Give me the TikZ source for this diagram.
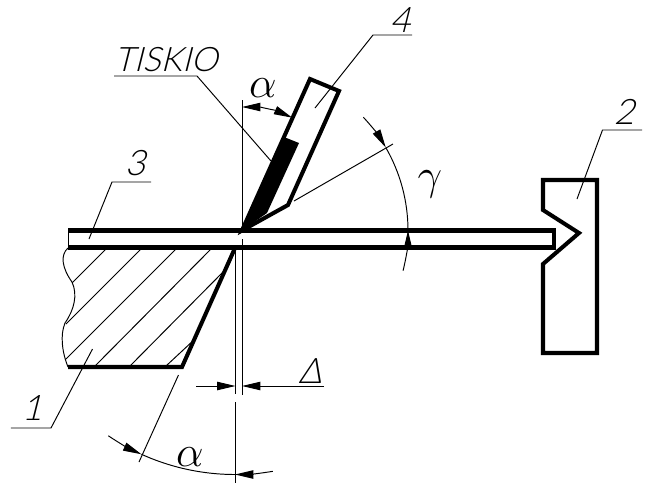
\documentclass[tikz,border=0pt]{standalone}
\usepackage{fontspec}
\newfontfamily\labelfont[FakeSlant=0.25]{Lato Light}
\usetikzlibrary{arrows.meta}
\tikzset{
  thickline/.style={line width=2.3pt, draw=black, line join=miter},
  thinline/.style={line width=0.55pt, draw=black},
  dimhead/.tip={Stealth[length=10.5pt,width=4.8pt,inset=0pt]},
  dimtip/.style={-dimhead},
  numlabel/.style={font=\labelfont\fontsize{20}{20}\selectfont, inner sep=0pt},
  anglelabel/.style={font=\fontsize{25}{25}\selectfont, inner sep=0pt}
}
\begin{document}
\begin{tikzpicture}[x=0.02cm, y=-0.02cm]
\useasboundingbox (0,0) rectangle (664,484);
\coordinate (apex) at (242,230.5);
\coordinate (diecorner) at (235,248);
% plate
\draw [thickline] (68,230.5) -- (554,230.5) -- (554,247.5) -- (68,247.5);
\draw [thinline] (68,230.5) -- (68,247.5);
% die
\draw [thickline] (68,367) -- (182,367) -- (diecorner);
\draw [thinline] (68,248) .. controls (60,255) and (62,268) .. (72,282) .. controls (78,295) and (74,310) .. (65,323) .. controls (60,335) and (62,352) .. (68,367);
\draw [thinline] (106,249) -- (72,283);
\draw [thinline] (141,249) -- (66,324);
\draw [thinline] (176,249) -- (66,359);
\draw [thinline] (211,249) -- (95,366);
\draw [thinline] (223,272) -- (130,366);
\draw [thinline] (195,339) -- (166,366);
% blade
\fill [black] (apex) -- (284,137) -- (299,143) -- (267,213) -- cycle;
\draw [thickline] (apex) -- (310,79) -- (339,91) -- (288,205) -- cycle;
% stop
\draw [thickline] (543,180) -- (597,180) -- (597,353) -- (543,353) -- (543,264) -- (579,233) -- (543,210) -- cycle;
% centre lines
\draw [thinline] (242,100) -- (apex);
\draw [thinline] (242,239) -- (242,395);
\draw [thinline] (235.5,250) -- (235.5,394);
\draw [thinline] (235.5,402) -- (235.5,483);
% gamma
\draw [thinline] (294,201) -- (393,144);
\draw [thinline, dimtip] (apex) ++(-43:166) arc (-43:-30:166);
\draw [thinline] (apex) ++(-30:166) arc (-30:0:166);
\draw [thinline, dimtip] (apex) ++(14:166) arc (14:0:166);
\node [anglelabel] (gammalabel) at (430,184) {$\gamma$};
% alpha
\draw [thinline, dimhead-dimhead] (apex) ++(-90:123.5) arc (-90:-66:123.5);
\node [anglelabel] (alphatop) at (263,88) {$\alpha$};
\draw [thinline] (178.5,375) -- (139,462);
\draw [thinline, dimtip] (diecorner) ++(124:226.5) arc (124:114.4:226.5);
\draw [thinline] (diecorner) ++(114.4:226.5) arc (114.4:90:226.5);
\draw [thinline, dimtip] (diecorner) ++(80.4:226.5) arc (80.4:90:226.5);
\node [anglelabel] (alphalow) at (190,457) {$\alpha$};
% gap
\draw [thinline, dimtip] (196,386) -- (235.5,386);
\draw [thinline, dimtip] (324,386) -- (242,386);
\node [numlabel] (gaplabel) at (310,371) {Δ};
% leaders
\draw [thinline] (92.5,349) -- (51,428) -- (11,428);
\node [numlabel] (one) at (32,408) {1};
\draw [thinline] (89,239) -- (112,182) -- (151,182);
\node [numlabel] (three) at (135,163) {3};
\draw [thinline] (315,108) -- (373,35) -- (412,35);
\node [numlabel] (four) at (400,20) {4};
\draw [thinline] (577,199) -- (602.5,130) -- (642,130);
\node [numlabel] (two) at (624,112) {2};
\draw [thinline] (114,76) -- (197,76) -- (271,161);
\node [numlabel, font=\labelfont\fontsize{19.2}{20}\selectfont] (tiskio) at (166,60) {TISKIO};
\end{tikzpicture}
\end{document}
